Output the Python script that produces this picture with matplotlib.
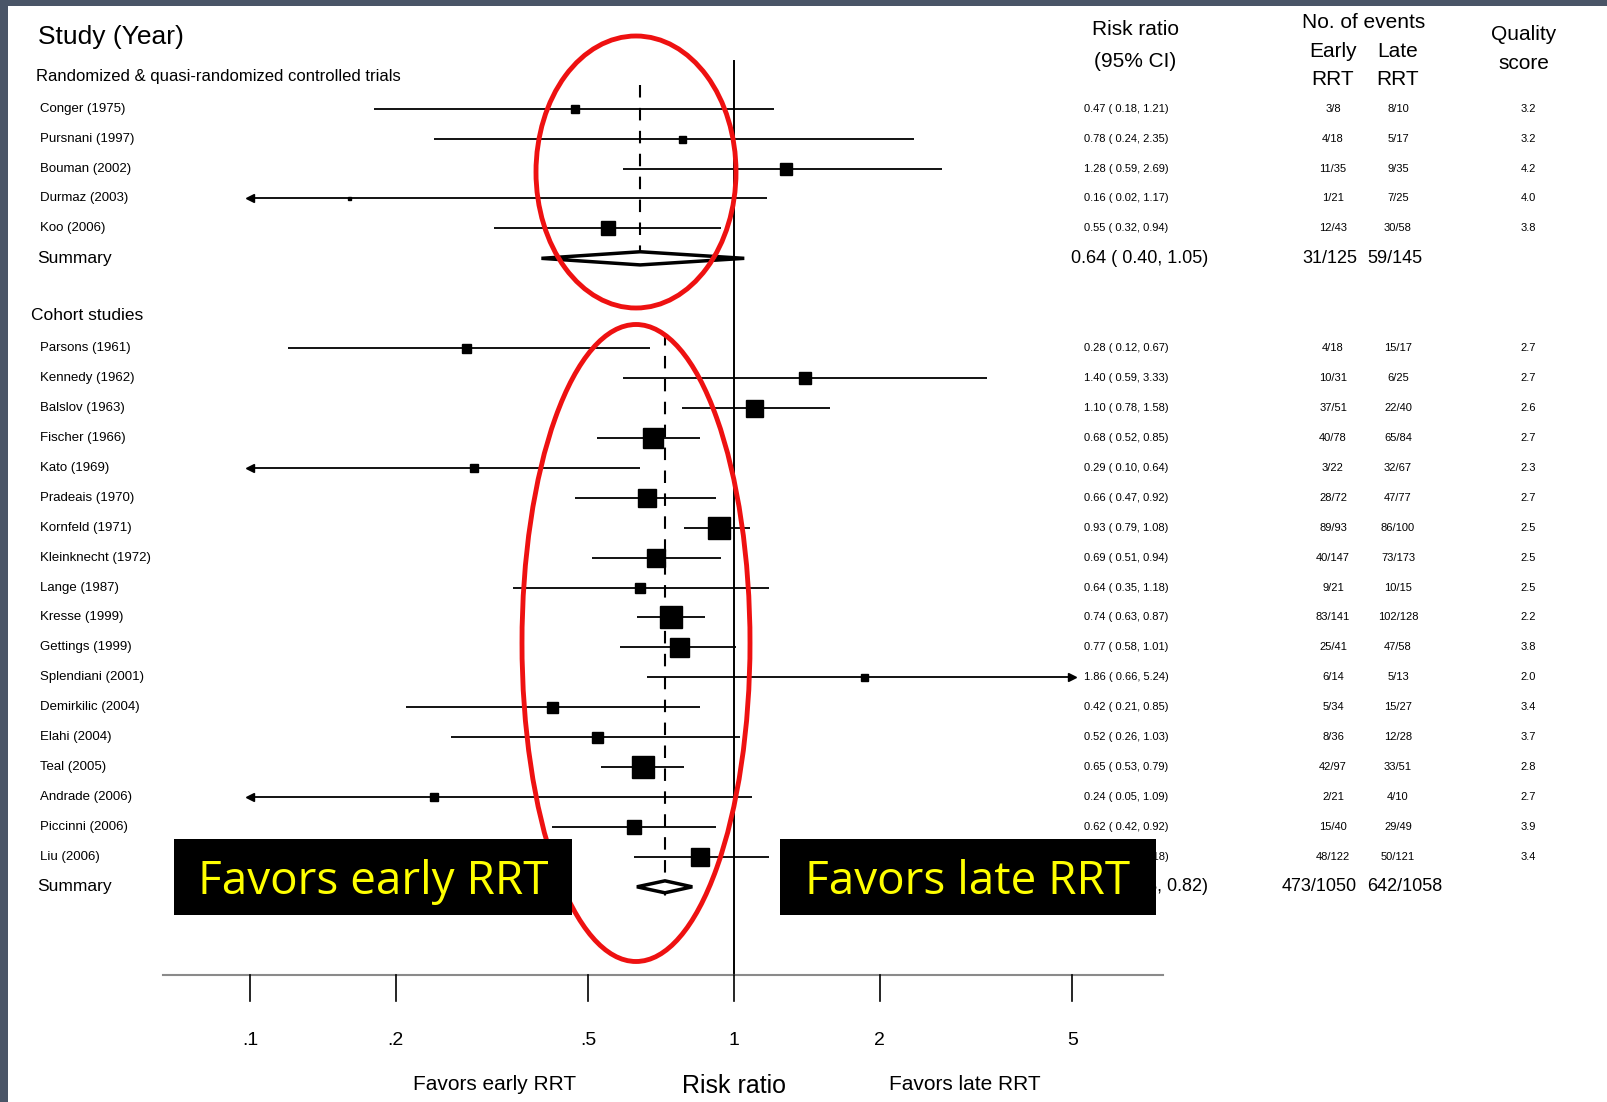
import numpy as np
import matplotlib
matplotlib.use('Agg')
import matplotlib.pyplot as plt
import matplotlib.transforms as mtransforms
from matplotlib.patches import Ellipse, Rectangle, Polygon

plt.rcParams['font.family'] = ['Liberation Sans', 'DejaVu Sans']

# randomized & quasi-randomized trials
rct_names = ['Conger (1975)', 'Pursnani (1997)', 'Bouman (2002)', 'Durmaz (2003)', 'Koo (2006)']
rct_rr = [0.47, 0.78, 1.28, 0.16, 0.55]
rct_lo = [0.18, 0.24, 0.59, 0.02, 0.32]
rct_hi = [1.21, 2.35, 2.69, 1.17, 0.94]
rct_box = [8, 7, 12, 3, 14]
rct_early = ['3/8', '4/18', '11/35', '1/21', '12/43']
rct_late = ['8/10', '5/17', '9/35', '7/25', '30/58']
rct_quality = ['3.2', '3.2', '4.2', '4.0', '3.8']
rct_summary = [0.64, 0.40, 1.05]
rct_summary_events = ['31/125', '59/145']

# cohort studies
coh_names = ['Parsons (1961)', 'Kennedy (1962)', 'Balslov (1963)', 'Fischer (1966)', 'Kato (1969)',
             'Pradeais (1970)', 'Kornfeld (1971)', 'Kleinknecht (1972)', 'Lange (1987)', 'Kresse (1999)',
             'Gettings (1999)', 'Splendiani (2001)', 'Demirkilic (2004)', 'Elahi (2004)', 'Teal (2005)',
             'Andrade (2006)', 'Piccinni (2006)', 'Liu (2006)']
coh_rr = [0.28, 1.40, 1.10, 0.68, 0.29, 0.66, 0.93, 0.69, 0.64, 0.74, 0.77, 1.86, 0.42, 0.52, 0.65, 0.24, 0.62, 0.85]
coh_lo = [0.12, 0.59, 0.78, 0.52, 0.10, 0.47, 0.79, 0.51, 0.35, 0.63, 0.58, 0.66, 0.21, 0.26, 0.53, 0.05, 0.42, 0.62]
coh_hi = [0.67, 3.33, 1.58, 0.85, 0.64, 0.92, 1.08, 0.94, 1.18, 0.87, 1.01, 5.24, 0.85, 1.03, 0.79, 1.09, 0.92, 1.18]
coh_box = [9, 12, 17, 20, 8, 18, 22, 18, 10, 22, 19, 7, 11, 11, 22, 8, 14, 18]
coh_early = ['4/18', '10/31', '37/51', '40/78', '3/22', '28/72', '89/93', '40/147', '9/21', '83/141',
             '25/41', '6/14', '5/34', '8/36', '42/97', '2/21', '15/40', '48/122']
coh_late = ['15/17', '6/25', '22/40', '65/84', '32/67', '47/77', '86/100', '73/173', '10/15', '102/128',
            '47/58', '5/13', '15/27', '12/28', '33/51', '4/10', '29/49', '50/121']
coh_quality = ['2.7', '2.7', '2.6', '2.7', '2.3', '2.7', '2.5', '2.5', '2.5', '2.2',
               '3.8', '2.0', '3.4', '3.7', '2.8', '2.7', '3.9', '3.4']
coh_summary = [0.72, 0.63, 0.82]
coh_summary_events = ['473/1050', '642/1058']

ticks = [0.1, 0.2, 0.5, 1, 2, 5]
clip_lo, clip_hi = 0.1, 5.0

W, H = 1607, 1102
fig = plt.figure(figsize=(W / 100, H / 100), dpi=100)
fig.patch.set_facecolor('white')
ax = fig.add_axes([0, 0, 1, 1])
ax.set_xscale('log')
ax.set_xlim(0.03044, 63.64)
ax.set_ylim(33.19, -3.632)
ax.axis('off')

tr = mtransforms.blended_transform_factory(ax.transAxes, ax.transData)

def px(x):
    return x / W

def ci_text(rr, lo, hi):
    return '%.2f ( %.2f, %.2f)' % (rr, lo, hi)

def study_row(y, name, rr, lo, hi, box, early, late, q):
    a, b = max(lo, clip_lo), min(hi, clip_hi)
    ax.plot([a, b], [y, y], color='black', lw=1.3, solid_capstyle='butt', zorder=2)
    if lo < clip_lo or (lo <= clip_lo and rr < 0.3):
        ax.plot(a, y, marker='<', ms=6, color='black', zorder=2)
    if hi > clip_hi:
        ax.plot(b, y, marker='>', ms=6, color='black', zorder=2)
    ax.plot(rr, y, marker='s', ms=box * 0.72, color='black', mec='black', zorder=3)
    ax.text(px(40), y, name, transform=tr, fontsize=9.5, va='center', ha='left')
    ax.text(px(1084), y, ci_text(rr, lo, hi), transform=tr, fontsize=8, va='center', ha='left')
    ax.text(px(1333), y, early, transform=tr, fontsize=8, va='center', ha='center')
    ax.text(px(1398), y, late, transform=tr, fontsize=8, va='center', ha='center')
    ax.text(px(1528), y, q, transform=tr, fontsize=8, va='center', ha='center')

def summary_row(y, vals, events, h):
    rr, lo, hi = vals
    poly = Polygon([(lo, y), (rr, y - h), (hi, y), (rr, y + h)], closed=True,
                   facecolor='white', edgecolor='black', lw=2.5, zorder=3)
    ax.add_patch(poly)
    ax.text(px(37), y, 'Summary', transform=tr, fontsize=12.5, va='center', ha='left')
    ax.text(px(1071), y, ci_text(rr, lo, hi), transform=tr, fontsize=13, va='center', ha='left')
    ax.text(px(1357), y, events[0], transform=tr, fontsize=13, va='center', ha='right')
    ax.text(px(1367), y, events[1], transform=tr, fontsize=13, va='center', ha='left')

# randomized block
rct_rows = np.arange(len(rct_names))
for i, y in enumerate(rct_rows):
    study_row(y, rct_names[i], rct_rr[i], rct_lo[i], rct_hi[i], rct_box[i],
              rct_early[i], rct_late[i], rct_quality[i])
rct_sum_y = rct_rows[-1] + 1
summary_row(rct_sum_y, rct_summary, rct_summary_events, 0.22)
ax.plot([rct_summary[0]] * 2, [-0.8, rct_sum_y], color='black', lw=1.5, ls=(0, (6, 5)), zorder=1)

# cohort block
coh_head_y = rct_sum_y + 1.9
coh_rows = np.arange(len(coh_names)) + rct_sum_y + 3
for i, y in enumerate(coh_rows):
    study_row(y, coh_names[i], coh_rr[i], coh_lo[i], coh_hi[i], coh_box[i],
              coh_early[i], coh_late[i], coh_quality[i])
coh_sum_y = coh_rows[-1] + 1
summary_row(coh_sum_y, coh_summary, coh_summary_events, 0.2)
ax.plot([coh_summary[0]] * 2, [coh_rows[0] - 0.5, coh_sum_y + 0.6], color='black', lw=1.5,
        ls=(0, (6, 5)), zorder=1)

# reference line and axis
axis_y = 28.95
ax.plot([1, 1], [-1.6, axis_y], color='black', lw=1.4, zorder=1)
ax.plot([0.066, 7.7], [axis_y, axis_y], color='#8a8a8a', lw=1.5, zorder=1)
for t in ticks:
    ax.plot([t, t], [axis_y, axis_y + 0.85], color='black', lw=1.2)
    ax.text(t, 31.15, ('%g' % t).lstrip('0'), fontsize=14, ha='center', va='center')
ax.text(0.32, 32.6, 'Favors early RRT', fontsize=15, ha='center', va='center')
ax.text(1.0, 32.65, 'Risk ratio', fontsize=18, ha='center', va='center')
ax.text(3.0, 32.6, 'Favors late RRT', fontsize=15, ha='center', va='center')

# headers
ax.text(px(38), -2.39, 'Study (Year)', transform=tr, fontsize=19, va='center', ha='left')
ax.text(px(36), -1.06, 'Randomized & quasi-randomized controlled trials', transform=tr,
        fontsize=12, va='center', ha='left')
ax.text(px(31), coh_head_y, 'Cohort studies', transform=tr, fontsize=12.5, va='center', ha='left')
ax.text(px(1135), -2.66, 'Risk ratio', transform=tr, fontsize=15, va='center', ha='center')
ax.text(px(1135), -1.57, '(95% CI)', transform=tr, fontsize=15, va='center', ha='center')
ax.text(px(1364), -2.87, 'No. of events', transform=tr, fontsize=15, va='center', ha='center')
ax.text(px(1333), -1.91, 'Early', transform=tr, fontsize=15, va='center', ha='center')
ax.text(px(1398), -1.91, 'Late', transform=tr, fontsize=15, va='center', ha='center')
ax.text(px(1333), -0.96, 'RRT', transform=tr, fontsize=15, va='center', ha='center')
ax.text(px(1398), -0.96, 'RRT', transform=tr, fontsize=15, va='center', ha='center')
ax.text(px(1524), -2.49, 'Quality', transform=tr, fontsize=15, va='center', ha='center')
ax.text(px(1524), -1.5, 'score', transform=tr, fontsize=15, va='center', ha='center')

# red highlight ellipses
fig.patches.append(Ellipse((636 / W, 1 - 172 / H), 200 / W, 272 / H, transform=fig.transFigure,
                           fill=False, ec='#ee1111', lw=3.5, zorder=5))
fig.patches.append(Ellipse((636 / W, 1 - 643 / H), 228 / W, 637 / H, transform=fig.transFigure,
                           fill=False, ec='#ee1111', lw=3.5, zorder=5))

# black label boxes
for x0, x1, label in [(174, 572, 'Favors early RRT'), (780, 1156, 'Favors late RRT')]:
    fig.patches.append(Rectangle((x0 / W, 1 - 915 / H), (x1 - x0) / W, 76 / H, transform=fig.transFigure,
                                 facecolor='black', edgecolor='none', zorder=6))
    fig.text((x0 + x1) / 2 / W, 1 - 882 / H, label, color='#ffff00', fontsize=33, family='Open Sans',
             ha='center', va='center', zorder=7)

# slide frame
fig.patches.append(Rectangle((0, 0), 8 / W, 1, transform=fig.transFigure, facecolor='#4a5567',
                             edgecolor='none', zorder=8))
fig.patches.append(Rectangle((0, 1 - 6 / H), 1, 6 / H, transform=fig.transFigure, facecolor='#4a5567',
                             edgecolor='none', zorder=8))

fig.savefig('out.png', dpi=100)
